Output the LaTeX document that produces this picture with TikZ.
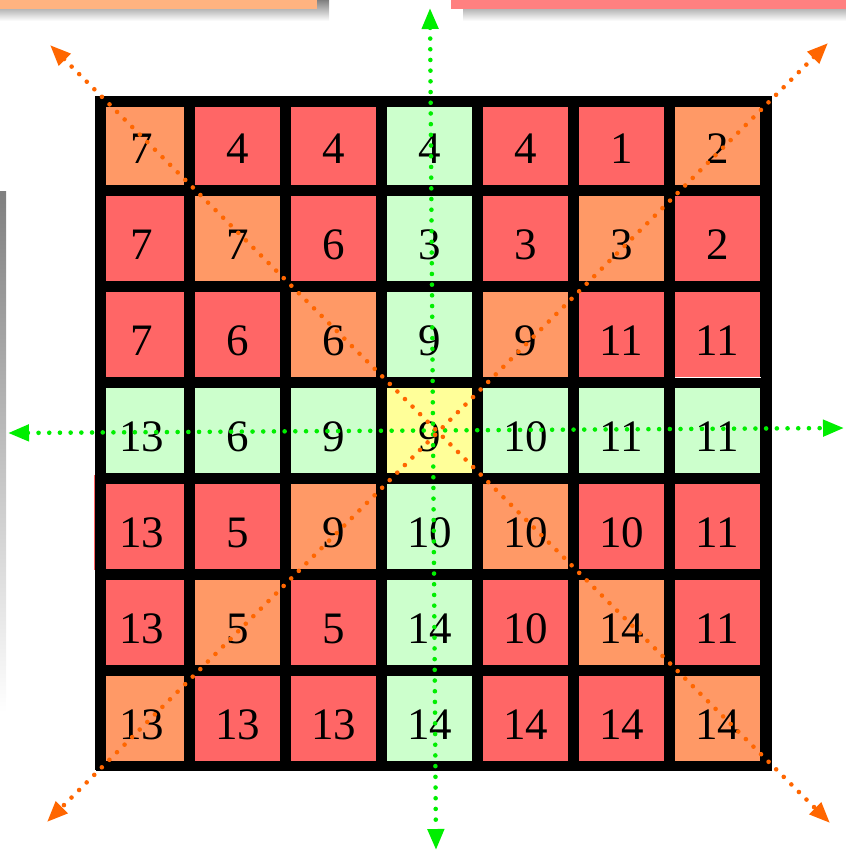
\documentclass[tikz,border=0pt]{standalone}
\usepackage{fontspec}
\setmainfont{Liberation Serif}
\usetikzlibrary{arrows.meta}
\definecolor{hot}{HTML}{FF6666}
\definecolor{warm}{HTML}{FF9966}
\definecolor{calm}{HTML}{CCFFCC}
\definecolor{pivot}{HTML}{FFFF99}
\definecolor{shade}{HTML}{808080}
\definecolor{peach}{HTML}{FFB380}
\definecolor{rose}{HTML}{FF8080}
\definecolor{axis}{HTML}{00EE00}
\definecolor{diag}{HTML}{FF6600}

\begin{document}
\begin{tikzpicture}[x=1pt, y=-1pt,
  cell/.style={minimum width=85pt, minimum height=85pt, inner sep=0pt, text height=41pt, text depth=0pt, font=\fontsize{45}{45}\selectfont},
  ray/.style={line width=4.6pt, line cap=round, dash pattern=on 0pt off 10.7pt, >={Triangle[length=21pt, width=16pt]}, <->}]
  \useasboundingbox (0,0) rectangle (846,852);
  % cut-off boxes round the board
  \fill[shade] (0,0) rectangle (329,21);
  \fill[peach] (0,0) rectangle (317,9);
  \fill[shade] (463,0) rectangle (846,21);
  \fill[rose] (451,0) rectangle (846,9);
  \fill[shade] (0,191) rectangle (6,712);
  \draw[hot, line width=1pt] (94.5,475) -- (94.5,570);
  % board
  \fill[black] (95,96) rectangle (772,770);
  \foreach \row/\cells in {
    1/{7/warm,4/hot,4/hot,4/calm,4/hot,1/hot,2/warm},
    2/{7/hot,7/warm,6/hot,3/calm,3/hot,3/warm,2/hot},
    3/{7/hot,6/hot,6/warm,9/calm,9/warm,11/hot,11/hot},
    4/{13/calm,6/calm,9/calm,9/pivot,10/calm,11/calm,11/calm},
    5/{13/hot,5/hot,9/warm,10/calm,10/warm,10/hot,11/hot},
    6/{13/hot,5/warm,5/hot,14/calm,10/hot,14/warm,11/hot},
    7/{13/warm,13/hot,13/hot,14/calm,14/hot,14/hot,14/warm}} {
    \foreach \num/\tone [count=\col] in \cells {
      \node[cell, fill=\tone] (c\row-\col) at ({45.5+96*\col},{46.5+96*\row}) {\num};
    }
  }
  \draw[line width=10pt] (100.5,101.5) rectangle (766.5,766);
  \draw[white, line width=0.8pt] (675,377.5) -- (761,377.5);
  % directions
  \coordinate (north) at (430,8);
  \coordinate (south) at (436,850);
  \coordinate (west) at (8,433);
  \coordinate (east) at (844,428);
  \coordinate (nw) at (50,45);
  \coordinate (se) at (830,823);
  \coordinate (ne) at (828,43);
  \coordinate (sw) at (47,822);
  \draw[ray, axis] (north) -- (south);
  \draw[ray, axis] (west) -- (east);
  \draw[ray, diag] (nw) -- (se);
  \draw[ray, diag] (ne) -- (sw);
\end{tikzpicture}
\end{document}
